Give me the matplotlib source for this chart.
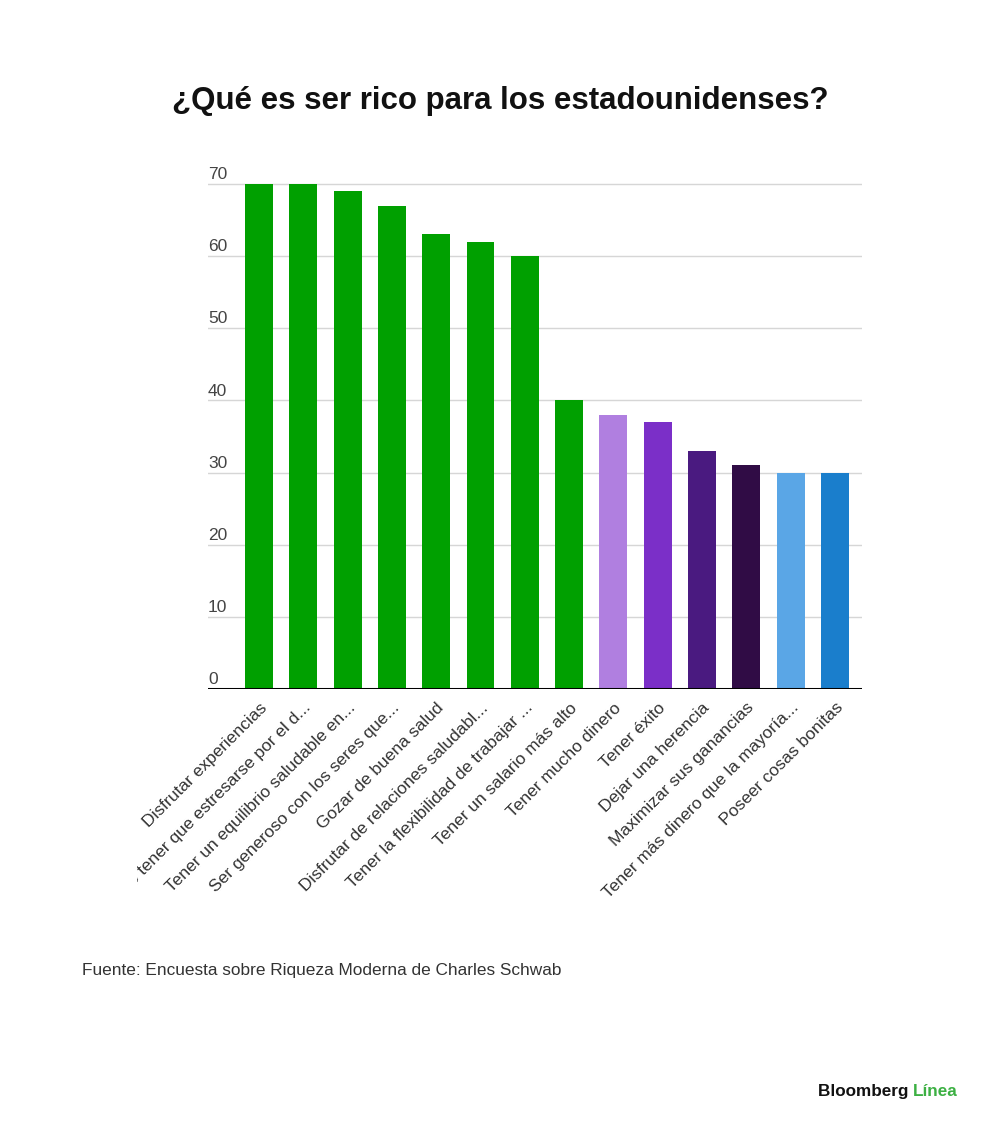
import matplotlib
matplotlib.use("Agg")
import matplotlib.pyplot as plt
from matplotlib.patches import Rectangle

# datos de la encuesta
categorias = [
    "Disfrutar experiencias",
    "No tener que estresarse por el d...",
    "Tener un equilibrio saludable en...",
    "Ser generoso con los seres que...",
    "Gozar de buena salud",
    "Disfrutar de relaciones saludabl...",
    "Tener la flexibilidad de trabajar ...",
    "Tener un salario más alto",
    "Tener mucho dinero",
    "Tener éxito",
    "Dejar una herencia",
    "Maximizar sus ganancias",
    "Tener más dinero que la mayoría...",
    "Poseer cosas bonitas",
]
valores = [70, 70, 69, 67, 63, 62, 60, 40, 38, 37, 33, 31, 30, 30]
colores = ["#00a000"] * 8 + ["#b07fe0", "#7b2fc8", "#4a1a80", "#300c45",
                             "#5aa6e6", "#1a7ecc"]
ticks_y = [0, 10, 20, 30, 40, 50, 60, 70]

plt.rcParams['font.family'] = ['Liberation Sans', 'DejaVu Sans']

fig = plt.figure(figsize=(10, 11.35), dpi=100)
ax = fig.add_axes([0.208, 0.393, 0.654, 0.4576])

x = list(range(len(valores)))
ax.bar(x, valores, width=0.63, color=colores, zorder=2)

ax.set_xlim(-1.15, len(valores) - 1 + 0.61)
ax.set_ylim(0, 72)

# lineas de cuadricula y etiquetas encima de ellas
for v in ticks_y:
    if v > 0:
        ax.axhline(v, color="#d6d6d6", lw=1, zorder=1)
    ax.text(-1.15, v + 0.25, str(v), ha="left", va="bottom",
            fontsize=12.5, color="#444444")
ax.axhline(0, color="black", lw=2.2, zorder=3)

for s in ax.spines.values():
    s.set_visible(False)
ax.set_yticks([])
ax.set_xticks(x)
ax.set_xticklabels(categorias, rotation=45, ha="right", va="top",
                   rotation_mode="anchor", fontsize=12.5, color="#333333")
ax.tick_params(axis="x", length=0, pad=8)

clip = Rectangle((0.137, 0), 0.9, 1, transform=fig.transFigure)
for lab in ax.get_xticklabels():
    lab.set_clip_path(clip)
    lab.set_clip_on(True)

fig.text(0.5, 0.911, "¿Qué es ser rico para los estadounidenses?",
         ha="center", va="center", fontsize=22.5, fontweight="bold",
         color="#111111")

fig.text(0.082, 0.145, "Fuente: Encuesta sobre Riqueza Moderna de Charles Schwab",
         ha="left", va="center", fontsize=12.4, color="#333333")

t1 = fig.text(0.818, 0.038, "Bloomberg ", ha="left", va="center",
              fontsize=12.3, fontweight="bold", color="#111111")
fig.canvas.draw()
bb = t1.get_window_extent()
fig.text(bb.x1 / fig.bbox.width, 0.038, "Línea", ha="left", va="center",
         fontsize=12.3, fontweight="bold", color="#3cb043")

fig.savefig("out.png", dpi=100, facecolor="white")
